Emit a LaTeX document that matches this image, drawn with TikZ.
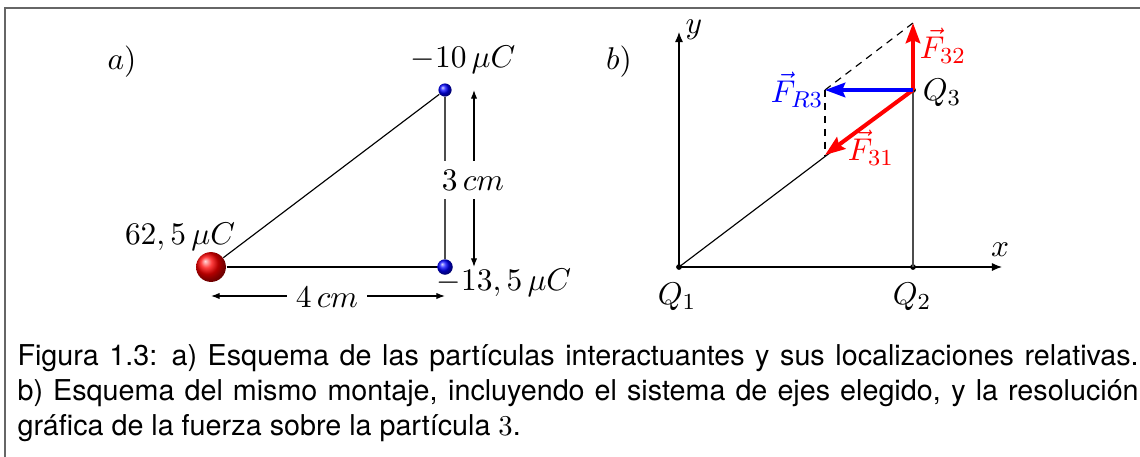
\documentclass[tikz,border=0pt]{standalone}
\usepackage{fontspec}
\newfontfamily\capfont{TeX Gyre Heros}
\usetikzlibrary{arrows.meta, positioning, calc}
\definecolor{framegray}{gray}{0.4}

\tikzset{
  lbl/.style={font=\fontsize{11.3}{13}\selectfont, inner sep=1pt},
  bigcharge/.style={circle, inner sep=0pt, minimum size=10.4pt, ball color=red},
  smallcharge/.style={circle, inner sep=0pt, minimum size=4.6pt, ball color=blue},
  dot/.style={circle, fill=black, inner sep=0pt, minimum size=2pt},
  dimarrow/.style={thin, {Latex[length=3pt, width=2.2pt]}-{Latex[length=3pt, width=2.2pt]}},
  axis/.style={thin, -{Latex[length=3.5pt, width=2.8pt]}},
  force/.style={line width=1.4pt, -{Stealth[length=7pt, width=5pt, inset=1pt]}},
  guide/.style={thin, dash pattern=on 2.5pt off 2pt}
}

\begin{document}
\begin{tikzpicture}[x=0.3484pt, y=-0.3484pt]
  \useasboundingbox (0,0) rectangle (1140,456);
  \draw[framegray, line width=0.75pt] (5,470) -- (5,8) -- (1150,8);

  % a)
  \node[lbl] (la) at (122,62) {$a)$};
  \node[bigcharge] (q1) at (211,267) {};
  \node[smallcharge] (q2) at (445,90) {};
  \node[smallcharge, minimum size=5.4pt] (q3) at (445,267) {};
  \draw[thin] (q1) -- (q2);
  \draw[thin] (q1) -- (q3);
  \draw[thin, black!70] (q2) -- (q3);
  \coordinate (d3top) at (474,90);
  \coordinate (d3bot) at (474,267);
  \coordinate (d4left) at (211,296);
  \coordinate (d4right) at (445,296);
  \draw[dimarrow] (d3top) -- (d3bot);
  \draw[dimarrow] (d4left) -- (d4right);
  \node[lbl, fill=white, inner sep=3pt] (l3) at (473,180) {$3\,cm$};
  \node[lbl, fill=white, inner sep=3pt] (l4) at (327,297) {$4\,cm$};
  \node[lbl] (lq2) at (463,60) {$-10\,\mu C$};
  \node[lbl] (lq1) at (180,237) {$62,5\,\mu C$};
  \node[lbl] (lq3) at (504,283) {$-13,5\,\mu C$};

  % b)
  \node[lbl] (lb) at (619,62) {$b)$};
  \node[dot] (Q1) at (679,267) {};
  \node[dot] (Q2) at (913,267) {};
  \node[dot] (Q3) at (913,90) {};
  \coordinate (xend) at (1002,267);
  \coordinate (yend) at (679,32);
  \coordinate (f32) at (913,23);
  \coordinate (f31) at (825,155);
  \coordinate (fr3) at (825,90);
  \draw[axis] (Q1.center) -- (xend);
  \draw[axis] (Q1.center) -- (yend);
  \draw[thin] (Q1.center) -- (Q3.center);
  \draw[thin, black!70] (Q2.center) -- (Q3.center);
  \draw[guide] (fr3) -- (f32);
  \draw[guide] (fr3) -- (f31);
  \draw[force, red] (Q3.center) -- (f32);
  \draw[force, red] (Q3.center) -- (f31);
  \draw[force, blue] (Q3.center) -- (fr3);
  \node[lbl] (lx) at (1000,250) {$x$};
  \node[lbl] (ly) at (694,30) {$y$};
  \node[lbl] (lQ1) at (677,297) {$Q_1$};
  \node[lbl] (lQ2) at (912,297) {$Q_2$};
  \node[lbl] (lQ3) at (942,93) {$Q_3$};
  \node[lbl, red] (lf32) at (943,46) {$\vec{F}_{32}$};
  \node[lbl, red] (lf31) at (871,148) {$\vec{F}_{31}$};
  \node[lbl, blue] (lfr3) at (797,90) {$\vec{F}_{R3}$};

  % caption
  \node[anchor=north west, inner sep=0pt, text width=390.6pt, align=justify,
        font=\capfont\fontsize{10}{12.2}\selectfont] (cap) at (17,344)
    {Figura 1.3:\enspace a) Esquema de las partículas interactuantes y sus localizaciones relativas.\linebreak
     b) Esquema del mismo montaje, incluyendo el sistema de ejes elegido, y la resolución\linebreak
     gráfica de la fuerza sobre la partícula $3$.};
\end{tikzpicture}
\end{document}
